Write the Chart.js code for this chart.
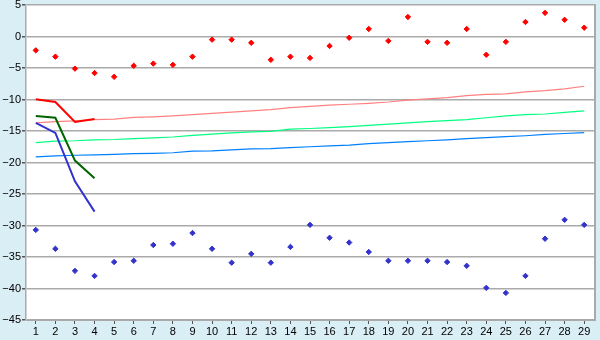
<!DOCTYPE html>
<html>
<head>
<meta charset="utf-8">
<script src="https://cdn.jsdelivr.net/npm/chart.js@4/dist/chart.umd.min.js"></script>
<style>
html,body{margin:0;padding:0;background:#d9eef5;}
#wrap{width:600px;height:340px;position:relative;}
</style>
</head>
<body>
<div id="wrap"><canvas id="c" width="600" height="340"></canvas></div>
<script>
const categories = ['1','2','3','4','5','6','7','8','9','10','11','12','13','14','15','16','17','18','19','20','21','22','23','24','25','26','27','28','29'];
const yTicks = [5,0,-5,-10,-15,-20,-25,-30,-35,-40,-45];

const redPoints = [-2.2,-3.2,-5.1,-5.8,-6.4,-4.65,-4.3,-4.5,-3.2,-0.5,-0.5,-1.0,-3.7,-3.2,-3.4,-1.5,-0.2,1.2,-0.7,3.1,-0.85,-1.0,1.2,-2.9,-0.85,2.3,3.75,2.65,1.4];
const bluePoints = [-30.7,-33.7,-37.2,-38.0,-35.8,-35.6,-33.1,-32.9,-31.2,-33.7,-35.9,-34.5,-35.9,-33.4,-29.9,-31.95,-32.7,-34.2,-35.6,-35.6,-35.6,-35.8,-36.4,-39.9,-40.7,-38.0,-32.1,-29.1,-29.9];

const pinkTrend = [-13.7,-13.5,-13.4,-13.2,-13.1,-12.85,-12.75,-12.6,-12.4,-12.2,-12.0,-11.8,-11.6,-11.3,-11.1,-10.9,-10.75,-10.6,-10.4,-10.1,-9.9,-9.7,-9.4,-9.2,-9.1,-8.8,-8.6,-8.3,-7.9];
const greenTrend = [-16.85,-16.6,-16.55,-16.4,-16.35,-16.2,-16.1,-15.95,-15.7,-15.5,-15.3,-15.15,-15.05,-14.7,-14.6,-14.45,-14.3,-14.1,-13.9,-13.7,-13.5,-13.35,-13.2,-12.9,-12.6,-12.4,-12.3,-12.05,-11.8];
const blueTrend = [-19.1,-18.95,-18.85,-18.8,-18.7,-18.6,-18.55,-18.45,-18.2,-18.15,-18.0,-17.85,-17.8,-17.65,-17.5,-17.35,-17.25,-17.0,-16.85,-16.7,-16.55,-16.4,-16.2,-16.05,-15.9,-15.75,-15.55,-15.4,-15.25];

const redLine = [-9.95,-10.4,-13.55,-13.1];
const greenLine = [-12.6,-12.9,-19.7,-22.5];
const blueLine = [-13.7,-15.3,-23.0,-27.8];

const bgPlugin = {
  id: 'bg',
  beforeDraw(chart) {
    const {ctx, chartArea: a} = chart;
    ctx.save();
    ctx.fillStyle = '#d9eef5';
    ctx.fillRect(0, 0, chart.width, chart.height);
    ctx.fillStyle = '#ffffff';
    ctx.fillRect(a.left, a.top, a.right - a.left, a.bottom - a.top);
    ctx.restore();
  },
  afterDatasetsDraw(chart) {
    const {ctx, chartArea: a} = chart;
    ctx.save();
    ctx.strokeStyle = '#aaaaaa';
    ctx.lineWidth = 2;
    ctx.beginPath();
    ctx.moveTo(a.right + 1, a.top - 1);
    ctx.lineTo(a.right + 1, a.bottom + 1);
    ctx.stroke();
    ctx.restore();
  }
};

const lineDs = (data, color, width, order) => ({
  data, borderColor: color, backgroundColor: color, borderWidth: width,
  pointRadius: 0, tension: 0, fill: false, order
});
const ptDs = (data, color, order) => ({
  data, showLine: false, borderColor: color, backgroundColor: color,
  pointStyle: 'rectRot', pointRadius: 2.7, pointBorderWidth: 1, order
});

new Chart(document.getElementById('c'), {
  type: 'line',
  data: {
    labels: categories,
    datasets: [
      ptDs(redPoints, '#ff0000', 1),
      ptDs(bluePoints, '#3333cc', 1),
      lineDs(redLine, '#ff0000', 2, 2),
      lineDs(greenLine, '#006400', 2, 2),
      lineDs(blueLine, '#3333cc', 2, 2),
      lineDs(pinkTrend, '#ff8080', 1.2, 3),
      lineDs(greenTrend, '#00ff80', 1.2, 3),
      lineDs(blueTrend, '#0080ff', 1.2, 3)
    ]
  },
  options: {
    responsive: false,
    animation: false,
    events: [],
    layout: { padding: { top: 5, right: 6, left: 0, bottom: 0 } },
    plugins: { legend: { display: false }, tooltip: { enabled: false } },
    scales: {
      x: {
        type: 'category',
        offset: true,
        grid: { offset: false, drawOnChartArea: false, drawTicks: true, tickLength: 4, color: '#555555' },
        border: { color: '#aaaaaa' },
        ticks: { color: '#000', font: { family: 'Liberation Sans', size: 11 }, padding: 1, maxRotation: 0, autoSkip: false },
        afterFit(s) { s.height = 20; s.paddingLeft = 0; s.paddingRight = 0; }
      },
      y: {
        min: -45, max: 5,
        afterBuildTicks(s) { s.ticks = yTicks.map(v => ({ value: v })); },
        grid: { color: '#aaaaaa', lineWidth: 1.5, drawTicks: true, tickLength: 4, tickColor: '#555555' },
        border: { color: '#aaaaaa', width: 1.5 },
        ticks: {
          color: '#000', font: { family: 'Liberation Sans', size: 11 }, padding: 1,
          callback: v => String(v).replace('-', '\u2212')
        },
        afterFit(s) { s.width = 26; s.paddingTop = 0; s.paddingBottom = 0; }
      }
    }
  },
  plugins: [bgPlugin]
});
</script>
</body>
</html>
